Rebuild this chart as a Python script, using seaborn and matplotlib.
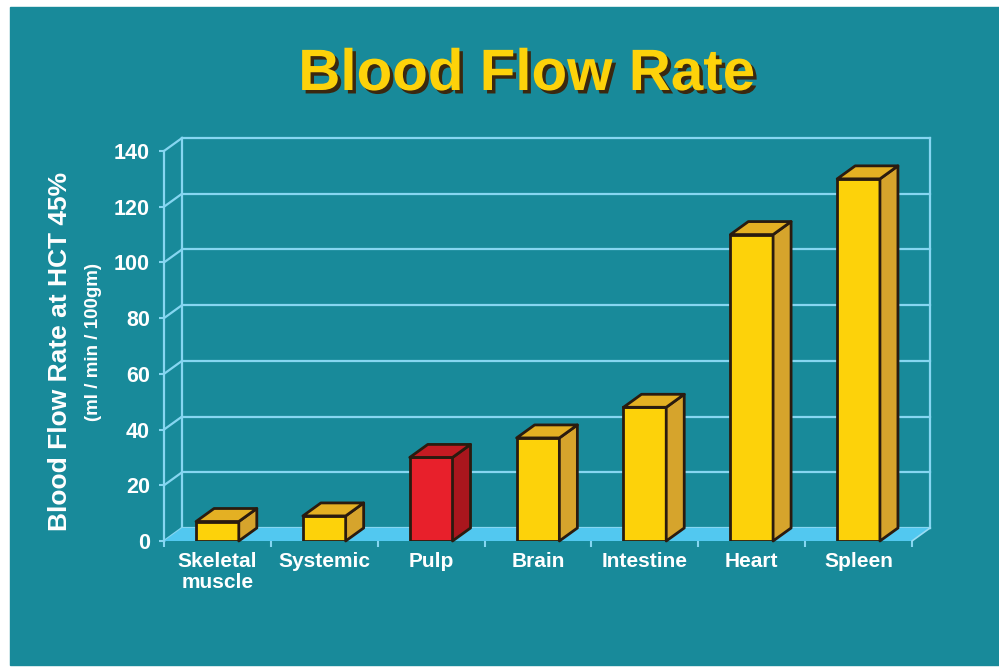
import matplotlib
matplotlib.use("Agg")
import matplotlib.pyplot as plt
import matplotlib.transforms as mtransforms
import matplotlib.patheffects as pe
from matplotlib.patches import Polygon, Rectangle
from matplotlib.lines import Line2D
import numpy as np
import pandas as pd
import seaborn as sns

# --- data -------------------------------------------------------------
organs = ["Skeletal\nmuscle", "Systemic", "Pulp", "Brain", "Intestine", "Heart", "Spleen"]
flow_rates = [7, 9, 30, 37, 48, 110, 130]
y_ticks = [0, 20, 40, 60, 80, 100, 120, 140]

# --- styling ----------------------------------------------------------
TEAL = "#188A9A"
GRID = "#86D6F1"
FLOOR = "#52C8F0"
EDGE = "#2A1B0F"
YELLOW = ("#FDD20A", "#D6A42C", "#E4B023")   # front, side, top
RED = ("#E8202B", "#A9161D", "#C41B22")
face_sets = {o: (RED if o == "Pulp" else YELLOW) for o in organs}

DEPTH = np.array([18.0, 13.0])   # pixel offset of the back plane

sns.set_theme(style="white")
plt.rcParams["font.family"] = ["Liberation Sans", "DejaVu Sans"]
plt.rcParams["font.weight"] = "bold"

W, H = 999, 668
fig = plt.figure(figsize=(W / 100, H / 100), dpi=100, facecolor="white")
fig.patches.append(Rectangle((10 / W, 3 / H), 989 / W, 658 / H,
                             transform=fig.transFigure, color=TEAL, zorder=-10))

ax = fig.add_axes([164 / W, 127 / H, 748 / W, 390 / H])
ax.patch.set_visible(False)

df = pd.DataFrame({"organ": organs, "rate": flow_rates})
sns.barplot(data=df, x="organ", y="rate", hue="organ", legend=False,
            palette={o: face_sets[o][0] for o in organs}, saturation=1,
            width=0.4, edgecolor=EDGE, linewidth=2.0, ax=ax, zorder=4)
bars = [p for cont in ax.containers for p in cont]

ax.set_xlim(-0.5, len(organs) - 0.5)
ax.set_ylim(0, 140)
ax.set_xlabel("")
ax.set_ylabel("")

# spines: only the front left edge is kept
for side in ("top", "right", "bottom"):
    ax.spines[side].set_visible(False)
ax.spines["left"].set_color(GRID)
ax.spines["left"].set_linewidth(1.6)

ax.set_yticks(y_ticks)
ax.set_yticklabels([str(v) for v in y_ticks])
ax.tick_params(axis="y", direction="out", length=3.6, width=1.5, color=GRID,
               labelcolor="white", labelsize=15.5, pad=6.5, left=True)
ax.set_xticks(range(len(organs)))
ax.set_xticklabels(organs, linespacing=1.12)
ax.set_xticks(np.arange(-0.5, len(organs)), minor=True)
ax.tick_params(axis="x", which="major", length=0, labelcolor="white",
               labelsize=15, pad=8)
ax.tick_params(axis="x", which="minor", direction="out", length=4.5,
               width=1.5, color=GRID, bottom=True)
ax.grid(False)

ident = mtransforms.IdentityTransform()


def px(x, y, d=0.0):
    """Display position of a data point pushed d of the way to the back plane."""
    return ax.transData.transform((x, y)) + d * DEPTH


def add_poly(points, **kw):
    p = Polygon(points, closed=True, transform=ident, **kw)
    ax.add_artist(p)
    p.set_clip_on(False)
    return p


def add_line(p0, p1, **kw):
    ln = Line2D([p0[0], p1[0]], [p0[1], p1[1]], transform=ident, **kw)
    ax.add_artist(ln)
    ln.set_clip_on(False)


x0, x1 = -0.5, len(organs) - 0.5
line_kw = dict(color=GRID, lw=1.6, zorder=1, solid_capstyle="projecting")

# back wall grid and side-wall diagonals
for v in y_ticks:
    add_line(px(x0, v, 1), px(x1, v, 1), **line_kw)
    add_line(px(x0, v, 0), px(x0, v, 1), **line_kw)
add_line(px(x0, 0, 1), px(x0, 140, 1), **line_kw)
add_line(px(x1, 0, 1), px(x1, 140, 1), **line_kw)

# floor
add_poly([px(x0, 0), px(x1, 0), px(x1, 0, 1), px(x0, 0, 1)],
         facecolor=FLOOR, edgecolor="none", zorder=2)
add_line(px(x1, 0), px(x1, 0, 1), color="#9ADDF4", lw=1.2, zorder=2)

# extrude each bar into a box: side and top faces
for bar in bars:
    bx, bw, bh = bar.get_x(), bar.get_width(), bar.get_height()
    organ = organs[int(round(bx + bw / 2))]
    _, side_c, top_c = face_sets[organ]
    add_poly([px(bx + bw, 0), px(bx + bw, bh), px(bx + bw, bh, 1), px(bx + bw, 0, 1)],
             facecolor=side_c, edgecolor=EDGE, lw=2.0, joinstyle="round", zorder=5)
    add_poly([px(bx, bh), px(bx + bw, bh), px(bx + bw, bh, 1), px(bx, bh, 1)],
             facecolor=top_c, edgecolor=EDGE, lw=2.0, joinstyle="round", zorder=5)

# titles
fig.text(527 / W, 1 - 90 / H, "Blood Flow Rate", ha="center", va="baseline",
         fontsize=42, color="#FDD20A", weight="bold",
         path_effects=[pe.SimplePatchShadow(offset=(2.5, -2.5),
                                            shadow_rgbFace="#3A2810", alpha=1),
                       pe.Normal()])
fig.text(67 / W, 1 - 351 / H, "Blood Flow Rate at HCT 45%", rotation=90,
         rotation_mode="anchor", ha="center", va="baseline",
         fontsize=19, color="white", weight="bold")
fig.text(98 / W, 1 - 342 / H, "(ml / min / 100gm)", rotation=90,
         rotation_mode="anchor", ha="center", va="baseline",
         fontsize=13.5, color="white", weight="bold")

fig.savefig("out.png", dpi=100, facecolor=fig.get_facecolor())
